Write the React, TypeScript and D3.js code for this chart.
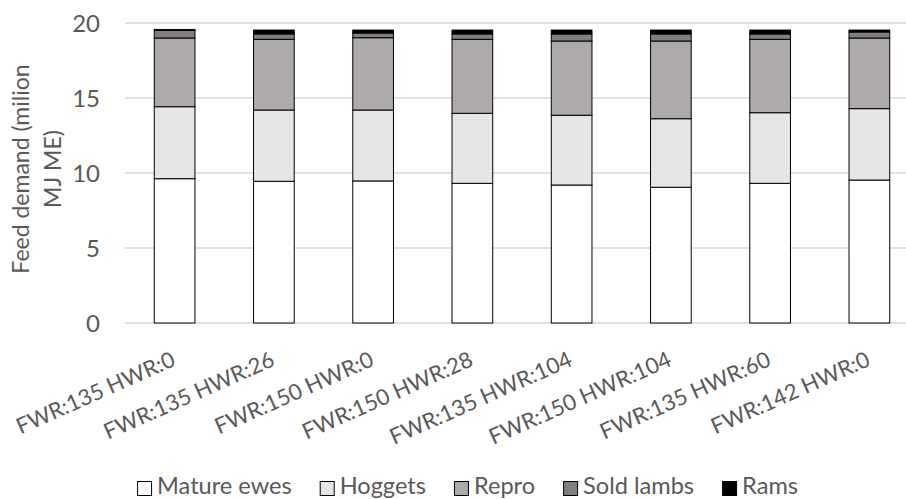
import React from "react";
import * as d3 from "d3";

// Scenarios (fine wool ratio / hogget weaning ratio)
const categories = [
  "FWR:135 HWR:0",
  "FWR:135 HWR:26",
  "FWR:150 HWR:0",
  "FWR:150 HWR:28",
  "FWR:135 HWR:104",
  "FWR:150 HWR:104",
  "FWR:135 HWR:60",
  "FWR:142 HWR:0",
];

// Feed demand per stock class, million MJ ME
const matureEwes = [9.62, 9.45, 9.47, 9.31, 9.2, 9.05, 9.31, 9.53];
const hoggets = [4.8, 4.75, 4.73, 4.67, 4.65, 4.57, 4.71, 4.76];
const repro = [4.58, 4.71, 4.82, 4.93, 4.95, 5.18, 4.89, 4.71];
const soldLambs = [0.5, 0.36, 0.31, 0.36, 0.47, 0.47, 0.36, 0.4];
const rams = [0.07, 0.26, 0.2, 0.26, 0.26, 0.26, 0.26, 0.13];

const seriesNames = ["Mature ewes", "Hoggets", "Repro", "Sold lambs", "Rams"];
const seriesColors = ["#ffffff", "#e7e6e6", "#aeaaaa", "#7f7f7f", "#000000"];
const yTicks = [0, 5, 10, 15, 20];

const W = 906;
const H = 499;
const FONT_FAMILY = "Lato, Carlito, Calibri, sans-serif";
const FS = 24;
const TEXT = "#595959";

// text width at a given font size, for fitting labels and laying out the legend
const canvas = typeof document !== "undefined" ? document.createElement("canvas") : null;
function measure(text: string, size: number): number {
  const ctx = canvas ? canvas.getContext("2d") : null;
  if (!ctx) return text.length * size * 0.5;
  ctx.font = `${size}px Lato`;
  return ctx.measureText(text).width;
}

export default function App() {
  const plot = { left: 125, right: 919, top: 23, bottom: 323 };

  const rows = categories.map((c, i) => ({
    cat: c,
    "Mature ewes": matureEwes[i],
    Hoggets: hoggets[i],
    Repro: repro[i],
    "Sold lambs": soldLambs[i],
    Rams: rams[i],
  }));
  const stacked = d3.stack<any>().keys(seriesNames)(rows);

  const x = d3
    .scaleBand<string>()
    .domain(categories)
    .range([plot.left, plot.right])
    .paddingInner(0.59)
    .paddingOuter(0.295);
  const y = d3.scaleLinear().domain([0, 20]).range([plot.bottom, plot.top]);

  // font sizes fitted to the label run lengths
  const catFS = Math.min(FS, (FS * 171) / measure(categories[0], FS));
  const legFS = Math.min(FS, (FS * 111) / measure("Sold lambs", FS));

  // legend: marker, 20px to label, 28px gap to next marker, ending at x=798
  const markerToText = 20;
  const itemGap = 28;
  const widths = seriesNames.map((n) => measure(n, legFS));
  const total =
    widths.reduce((a, b) => a + b, 0) +
    seriesNames.length * markerToText +
    (seriesNames.length - 1) * itemGap;
  let cursor = 798 - total;
  const legendItems = seriesNames.map((name, i) => {
    const item = { name, mx: cursor };
    cursor += markerToText + widths[i] + itemGap;
    return item;
  });

  return (
    <svg
      width={W}
      height={H}
      style={{ position: "absolute", left: 0, top: 0, background: "#fff" }}
      fontFamily={FONT_FAMILY}
    >
      <rect width={W} height={H} fill="#fff" />
      {/* gridlines */}
      {yTicks.map((t) => (
        <line
          key={t}
          x1={plot.left}
          x2={W}
          y1={y(t)}
          y2={y(t)}
          stroke="#d9d9d9"
          strokeWidth={1.3}
        />
      ))}
      {/* y tick labels */}
      {yTicks.map((t) => (
        <text
          key={"l" + t}
          x={100}
          y={y(t)}
          dy="0.36em"
          textAnchor="end"
          fontSize={FS}
          fill={TEXT}
        >
          {t}
        </text>
      ))}
      {/* y-axis title */}
      <g transform={`translate(0, ${(plot.top + plot.bottom) / 2 - 4})`}>
        <text transform="translate(29,0) rotate(-90)" textAnchor="middle" fontSize={FS - 1} fill={TEXT}>
          Feed demand (milion
        </text>
        <text transform="translate(61,0) rotate(-90)" textAnchor="middle" fontSize={FS - 1} fill={TEXT}>
          MJ ME)
        </text>
      </g>
      {/* stacked bars */}
      {stacked.map((s, si) => (
        <g key={s.key} fill={seriesColors[si]} stroke="#000" strokeWidth={1}>
          {s.map((d, i) => (
            <rect
              key={i}
              x={x(categories[i])!}
              width={x.bandwidth()}
              y={y(d[1])}
              height={y(d[0]) - y(d[1])}
            />
          ))}
        </g>
      ))}
      {/* category labels */}
      {categories.map((c) => (
        <text
          key={c}
          transform={`translate(${x(c)! + x.bandwidth() / 2 + 2}, 365) rotate(-24)`}
          textAnchor="end"
          fontSize={catFS}
          fill={TEXT}
        >
          {c}
        </text>
      ))}
      {/* legend */}
      {legendItems.map((it, i) => (
        <g key={it.name}>
          <rect
            x={it.mx + 0.5}
            y={481.5}
            width={14}
            height={14}
            fill={seriesColors[i]}
            stroke="#000"
            strokeWidth={1}
          />
          <text x={it.mx + markerToText} y={494} fontSize={legFS} fill={TEXT}>
            {it.name}
          </text>
        </g>
      ))}
    </svg>
  );
}
